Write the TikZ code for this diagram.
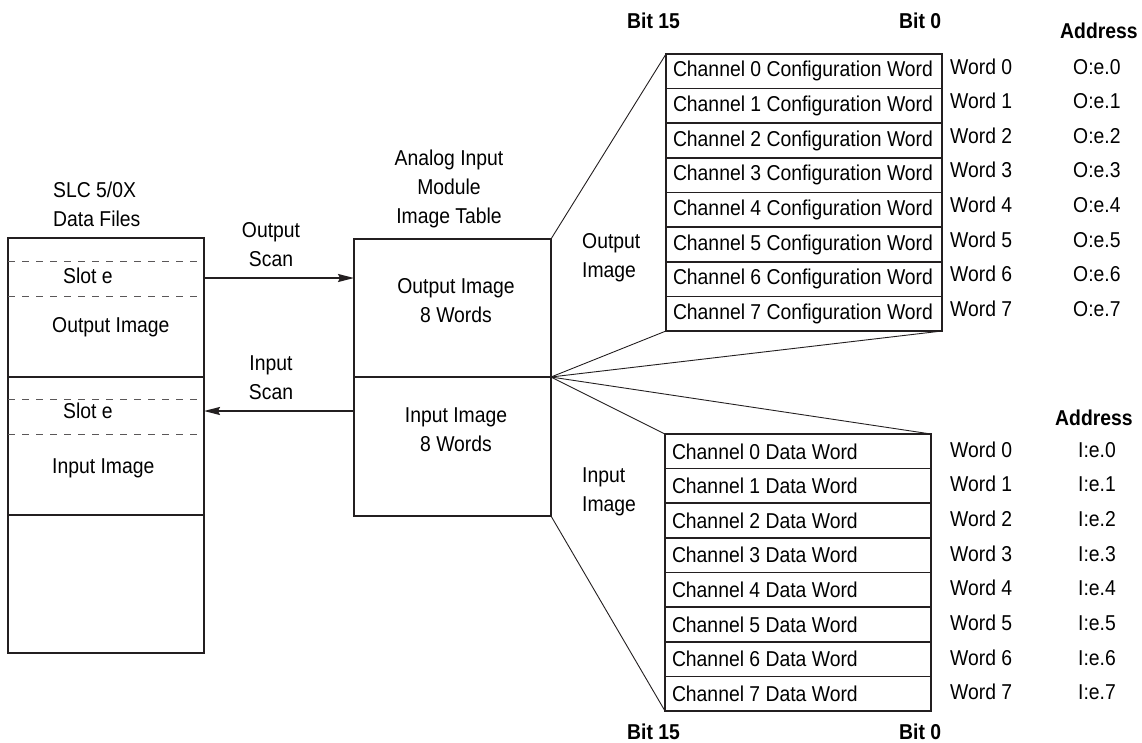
\documentclass[tikz,border=0pt]{standalone}
\usepackage{fontspec}
\setmainfont{Liberation Sans}[FakeStretch=0.9]
\usetikzlibrary{arrows.meta}
\definecolor{ink}{HTML}{231F20}
\newcommand{\diagfont}{\fontsize{21.5}{29}\selectfont}
\begin{document}
\begin{tikzpicture}[x=1pt,y=-1pt,
  every node/.style={font=\diagfont, text=black},
  box/.style={draw=ink, line width=1.8pt, outer sep=0pt, inner sep=0pt},
  cfgrow/.style={draw=ink, line width=1.6pt, outer sep=0pt, inner xsep=7pt, inner ysep=0pt,
     minimum height=34.625pt},
  lbl/.style={inner sep=0pt},
  hdr/.style={inner sep=0pt, font=\diagfont\bfseries},
  slotline/.style={draw=ink!75, line width=0.8pt, dash pattern=on 7pt off 7pt},
  scan/.style={draw=ink, line width=1.8pt, -{Stealth[length=16pt,width=8pt,inset=2pt]}},
  fan/.style={draw=ink, line width=0.9pt}]
\path[use as bounding box] (0,0) rectangle (1142,742);

% SLC data files block
\node[box, minimum width=196pt, minimum height=139pt] (lb1) at (106,307.5) {};
\node[box, minimum width=196pt, minimum height=138pt] (lb2) at (106,446) {};
\node[box, minimum width=196pt, minimum height=138pt] (lb3) at (106,584) {};
\draw[slotline] ([yshift=-23pt]lb1.north west) -- ([yshift=-23pt]lb1.north east);
\draw[slotline] ([yshift=-58pt]lb1.north west) -- ([yshift=-58pt]lb1.north east);
\draw[slotline] ([yshift=-22pt]lb2.north west) -- ([yshift=-22pt]lb2.north east);
\draw[slotline] ([yshift=-57pt]lb2.north west) -- ([yshift=-57pt]lb2.north east);

\node[lbl, align=left, anchor=west] (slc) at (53,204) {SLC 5/0X\\Data Files};
\node[lbl, anchor=base west] (slot1) at (63,283) {Slot e};
\node[lbl, anchor=base west] (outimg1) at (52,332) {Output Image};
\node[lbl, anchor=base west] (slot2) at (63,418) {Slot e};
\node[lbl, anchor=base west] (inimg1) at (52,473) {Input Image};

% module image table
\node[box, minimum width=197pt, minimum height=138pt] (mb1) at (452.5,308) {};
\node[box, minimum width=197pt, minimum height=139pt] (mb2) at (452.5,446.5) {};
\node[lbl, align=center] (aim) at (449,188.5) {Analog Input\\Module\\Image Table};
\node[lbl, align=center] (mout) at (456,300.5) {Output Image\\8 Words};
\node[lbl, align=center] (min) at (456,429.5) {Input Image\\8 Words};

% scans
\node[lbl, align=center] (oscan) at (271,244.5) {Output\\Scan};
\node[lbl, align=center] (iscan) at (271,378) {Input\\Scan};
\draw[scan] ([yshift=-40pt]lb1.north east) -- ([yshift=-39pt]mb1.north west);
\draw[scan] ([yshift=-34pt]mb2.north west) -- ([yshift=-34pt]lb2.north east);

% side labels
\node[lbl, align=left, anchor=west] (oimgr) at (582,257.5) {Output\\Image};
\node[lbl, align=left, anchor=west] (iimgr) at (582,492) {Input\\Image};

% output table
\node[hdr, anchor=base west] (b15t) at (627,28) {Bit 15};
\node[hdr, anchor=base west] (b0t) at (899,28) {Bit 0};
\node[hdr, anchor=base west] (addrt) at (1060,38) {Address};
\foreach \i in {0,...,7}{
  \pgfmathsetmacro{\cy}{54+34.625*(\i+0.5)}
  \node[cfgrow] (c\i) at (804,\cy) {\makebox[262pt][l]{Channel \i{} Configuration Word}};
  \node[lbl, anchor=base west] (cw\i) at (950,\cy+2.7) {Word \i};
  \node[lbl, anchor=base west] (ca\i) at (1073,\cy+2.7) {O:e.\i};
}

% input table
\node[hdr, anchor=base west] (addrb) at (1055,425) {Address};
\node[hdr, anchor=base west] (b15b) at (627,739) {Bit 15};
\node[hdr, anchor=base west] (b0b) at (899,739) {Bit 0};
\foreach \i in {0,...,7}{
  \pgfmathsetmacro{\cy}{434+34.625*(\i+0.5)}
  \node[cfgrow] (d\i) at (798,\cy) {\makebox[252pt][l]{Channel \i{} Data Word}};
  \node[lbl, anchor=base west] (dw\i) at (950,\cy+6) {Word \i};
  \node[lbl, anchor=base west] (da\i) at (1078,\cy+6) {I:e.\i};
}

% fan lines
\draw[fan] (mb1.north east) -- (c0.north west);
\draw[fan] (mb1.south east) -- (c7.south west);
\draw[fan] (mb1.south east) -- (c7.south east);
\draw[fan] (mb1.south east) -- (d0.north east);
\draw[fan] (mb1.south east) -- (d0.north west);
\draw[fan] (mb2.south east) -- (d7.south west);
\end{tikzpicture}
\end{document}
